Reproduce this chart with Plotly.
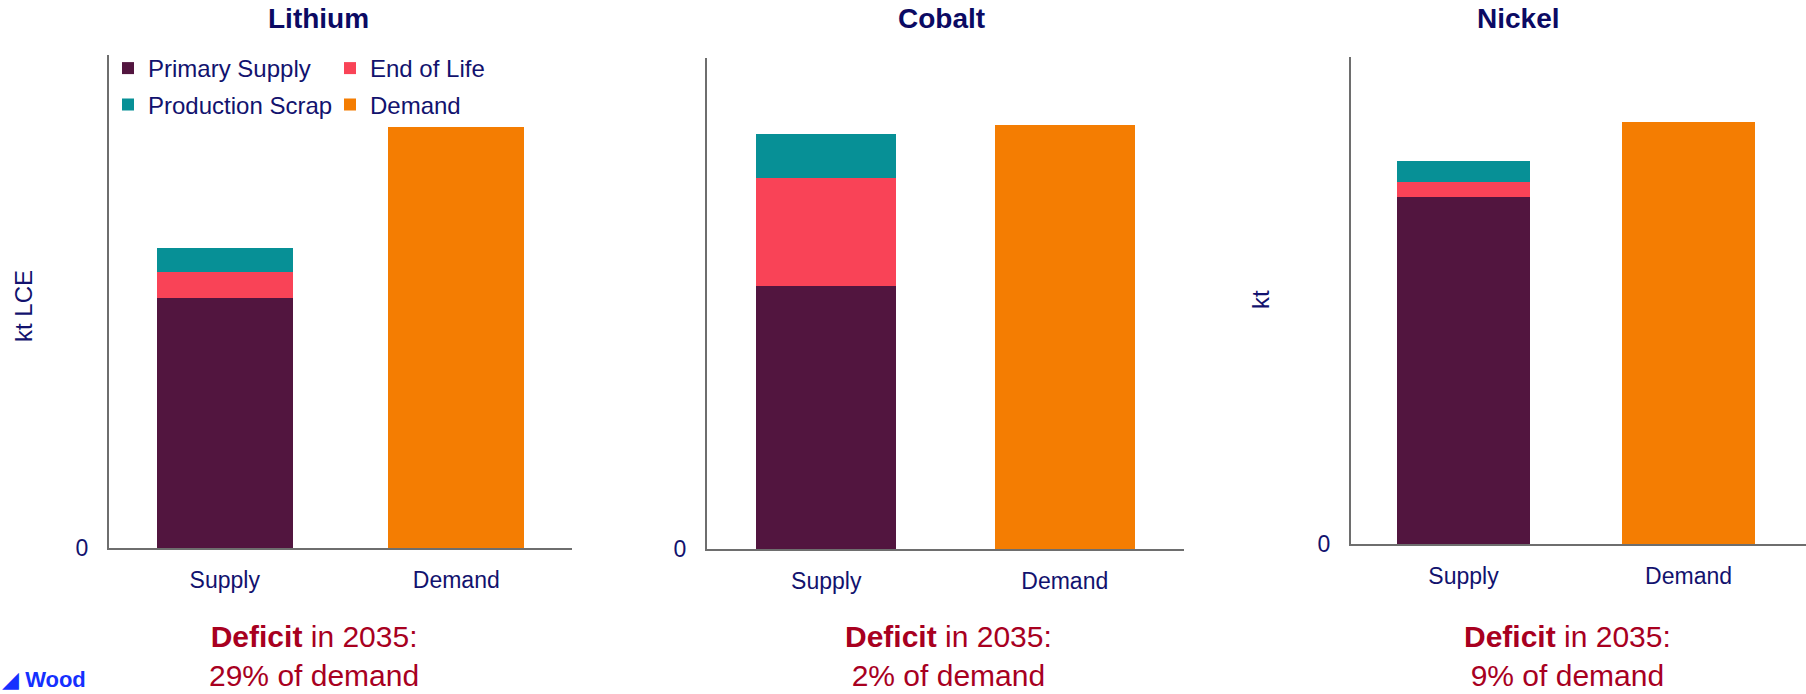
import plotly.graph_objects as go

W, H = 1806, 694

# ---------------- data ----------------
categories = ["Supply", "Demand"]
metals = ["Lithium", "Cobalt", "Nickel"]
unit_labels = ["kt LCE", "", "kt"]

primary_supply = [2500, 262, 3470]
end_of_life = [260, 108, 150]
production_scrap = [240, 44, 210]
demand = [4210, 423, 4220]
deficit_pct = [29, 2, 9]
deficit_year = 2035
y_max = [4930, 490, 4870]

series_names = ["Primary Supply", "End of Life", "Production Scrap", "Demand"]
series_colors = ["#52153F", "#F94357", "#079096", "#F47D02"]

# ---------------- style ----------------
NAVY = "#0b0a63"
LABEL = "#12126e"
CRIMSON = "#a8001f"
AXIS = "#6e6e6e"
FONT = "Liberation Sans, Arial, Helvetica, sans-serif"


def px(x):
    return x / W


def py(y):
    return 1 - y / H


# panel geometry in pixels: (x0, x1, ytop, ybottom)
panels = [(109, 572, 55, 548), (707, 1184, 58, 549), (1351, 1806, 57, 544)]
x_ranges = [[-0.5, 1.5], [-0.5, 1.5], [-0.5, 1.522]]
title_x = [318, 941, 1518]
deficit_x = [314, 948, 1567]
unit_pos = [(23, 306), None, (1260, 300)]

fig = go.Figure()

for i, metal in enumerate(metals):
    xa = "x" if i == 0 else f"x{i+1}"
    ya = "y" if i == 0 else f"y{i+1}"
    supply_parts = [primary_supply[i], end_of_life[i], production_scrap[i]]
    for k in range(3):
        fig.add_trace(go.Bar(
            x=[categories[0]], y=[supply_parts[k]], name=series_names[k],
            marker=dict(color=series_colors[k], line=dict(width=0)),
            xaxis=xa, yaxis=ya, showlegend=(i == 0),
            legend="legend" if k < 2 else "legend2",
            hovertemplate=f"{metal} – {series_names[k]}: %{{y}}<extra></extra>",
        ))
    fig.add_trace(go.Bar(
        x=[categories[1]], y=[demand[i]], name=series_names[3],
        marker=dict(color=series_colors[3], line=dict(width=0)),
        xaxis=xa, yaxis=ya, showlegend=(i == 0), legend="legend2",
        hovertemplate=f"{metal} – Demand: %{{y}}<extra></extra>",
    ))

legend_common = dict(
    orientation="h", x=px(108), xanchor="left", yanchor="middle",
    traceorder="normal", entrywidth=177, entrywidthmode="pixels",
    font=dict(size=24, color=LABEL, family=FONT),
    bgcolor="rgba(0,0,0,0)", borderwidth=0, itemclick=False, itemdoubleclick=False,
)

layout = dict(
    template="none",
    width=W, height=H,
    margin=dict(l=0, r=0, t=0, b=0, pad=0, autoexpand=False),
    paper_bgcolor="white", plot_bgcolor="white",
    barmode="stack", bargap=0.413,
    font=dict(family=FONT, color=LABEL, size=23),
    legend=dict(legend_common, y=py(68.5)),
    legend2=dict(legend_common, y=py(105)),
)

annotations = []
for i, metal in enumerate(metals):
    x0, x1, yt, yb = panels[i]
    suf = "" if i == 0 else str(i + 1)
    layout["xaxis" + suf] = dict(
        domain=[px(x0), px(x1)], range=x_ranges[i], type="category",
        categoryorder="array", categoryarray=categories,
        anchor="y" + suf, showline=True, linecolor=AXIS, linewidth=2,
        ticks="", showgrid=False, zeroline=False, fixedrange=True, automargin=False,
        tickfont=dict(size=23, color=LABEL, family=FONT), ticklabelstandoff=10,
    )
    layout["yaxis" + suf] = dict(
        domain=[py(yb), py(yt)], range=[0, y_max[i]],
        anchor="x" + suf, showline=True, linecolor=AXIS, linewidth=2,
        ticks="", showgrid=False, zeroline=False, fixedrange=True, automargin=False,
        tickvals=[0], ticktext=["0"],
        tickfont=dict(size=23, color=LABEL, family=FONT), ticklabelstandoff=14,
    )
    # panel title
    annotations.append(dict(
        text=f"<b>{metal}</b>", x=px(title_x[i]), y=py(18), xref="paper", yref="paper",
        xanchor="center", yanchor="middle", showarrow=False,
        font=dict(size=28, color=NAVY, family=FONT),
    ))
    # deficit note
    annotations.append(dict(
        text=f"<b>Deficit</b> in {deficit_year}:<br>{deficit_pct[i]}% of demand",
        x=px(deficit_x[i]), y=py(656), xref="paper", yref="paper",
        xanchor="center", yanchor="middle", showarrow=False, align="center",
        font=dict(size=30, color=CRIMSON, family=FONT),
    ))
    if unit_labels[i]:
        ux, uy = unit_pos[i]
        annotations.append(dict(
            text=unit_labels[i], x=px(ux), y=py(uy), xref="paper", yref="paper",
            xanchor="center", yanchor="middle", showarrow=False, textangle=-90,
            font=dict(size=24, color=LABEL, family=FONT),
        ))

# brand mark at the bottom-left corner
annotations.append(dict(
    text="◢ <b>Wood</b>", x=0, y=0, xref="paper", yref="paper",
    xanchor="left", yanchor="bottom", showarrow=False,
    font=dict(size=22, color="#1530ff", family=FONT),
))

layout["annotations"] = annotations
fig.update_layout(**layout)

fig.write_html("out.html", config={"displayModeBar": False})
